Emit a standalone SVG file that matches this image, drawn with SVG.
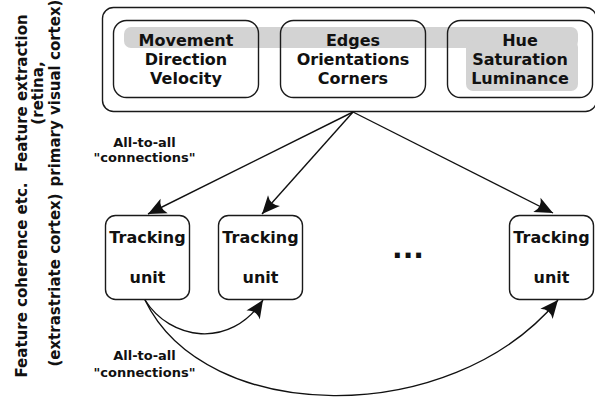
<svg xmlns="http://www.w3.org/2000/svg" width="595" height="397" viewBox="0 0 595 397">
<defs>
<style>
.box{fill:none;stroke:#1a1a1a;stroke-width:1.4}
.t{font-family:"DejaVu Sans",sans-serif;font-weight:bold;fill:#111;text-anchor:middle}
.big{font-size:16px}
.lbl{font-size:13px}
.side{font-size:15px}
.conn{fill:none;stroke:#111;stroke-width:1.4}
</style>
<marker id="ah" viewBox="-19 -9 20 18" refX="0" refY="0" markerWidth="20" markerHeight="18" markerUnits="userSpaceOnUse" orient="auto">
<path d="M0,0 L-18,-8 Q-12,0 -18,8 Z" fill="#111"/>
</marker>
</defs>
<rect width="595" height="397" fill="#fff"/>

<g id="side-labels">
<text class="t side" transform="translate(27,93) rotate(-90)">Feature extraction</text>
<text class="t side" transform="translate(43,93) rotate(-90)">(retina,</text>
<text class="t side" transform="translate(60,93) rotate(-90)">primary visual cortex)</text>
<text class="t side" transform="translate(27,280) rotate(-90)">Feature coherence etc.</text>
<text class="t side" transform="translate(60,280) rotate(-90)">(extrastriate cortex)</text>
</g>

<g id="feature-extraction">
<rect x="102.5" y="7.5" width="494" height="104" rx="11" fill="#fff" stroke="#1a1a1a" stroke-width="1.4"/>
<rect x="124" y="27" width="454" height="21" rx="7" fill="#d3d3d3"/>
<rect x="466" y="40" width="112" height="51" rx="7" fill="#d3d3d3"/>
</g>

<g id="movement">
<rect class="box" x="113.5" y="20.5" width="145" height="77" rx="13"/>
<text class="t big" x="186" y="46">Movement</text>
<text class="t big" x="186" y="65">Direction</text>
<text class="t big" x="186" y="84">Velocity</text>
</g>
<g id="edges">
<rect class="box" x="280.5" y="20.5" width="145" height="77" rx="13"/>
<text class="t big" x="353" y="46">Edges</text>
<text class="t big" x="353" y="65">Orientations</text>
<text class="t big" x="353" y="84">Corners</text>
</g>
<g id="hue">
<rect class="box" x="447.5" y="20.5" width="145" height="77" rx="13"/>
<text class="t big" x="520" y="46">Hue</text>
<text class="t big" x="520" y="65">Saturation</text>
<text class="t big" x="520" y="84">Luminance</text>
</g>

<g id="tracking1">
<rect class="box" x="105.5" y="215.5" width="84" height="84" rx="10"/>
<text class="t big" x="147.5" y="243">Tracking</text>
<text class="t big" x="147.5" y="283">unit</text>
</g>
<g id="tracking2">
<rect class="box" x="218.5" y="215.5" width="84" height="84" rx="10"/>
<text class="t big" x="260.5" y="243">Tracking</text>
<text class="t big" x="260.5" y="283">unit</text>
</g>
<g id="ellipsis">
<text class="t" x="408" y="258" font-size="28">...</text>
</g>
<g id="tracking3">
<rect class="box" x="509.5" y="215.5" width="84" height="84" rx="10"/>
<text class="t big" x="551.5" y="243">Tracking</text>
<text class="t big" x="551.5" y="283">unit</text>
</g>

<g id="connectors">
<path class="conn" d="M353,112 L148,214" marker-end="url(#ah)"/>
<path class="conn" d="M353,112 L262,214" marker-end="url(#ah)"/>
<path class="conn" d="M353,112 L553,213" marker-end="url(#ah)"/>
<path class="conn" d="M145,300 C170,340 230,350 263,300" marker-end="url(#ah)"/>
<path class="conn" d="M145,300 C205,425 450,430 558,300" marker-end="url(#ah)"/>
<text class="t lbl" x="144.5" y="147">All-to-all</text>
<text class="t lbl" x="144.5" y="162">"connections"</text>
<text class="t lbl" x="144.5" y="360">All-to-all</text>
<text class="t lbl" x="144.5" y="377">"connections"</text>
</g>
</svg>
